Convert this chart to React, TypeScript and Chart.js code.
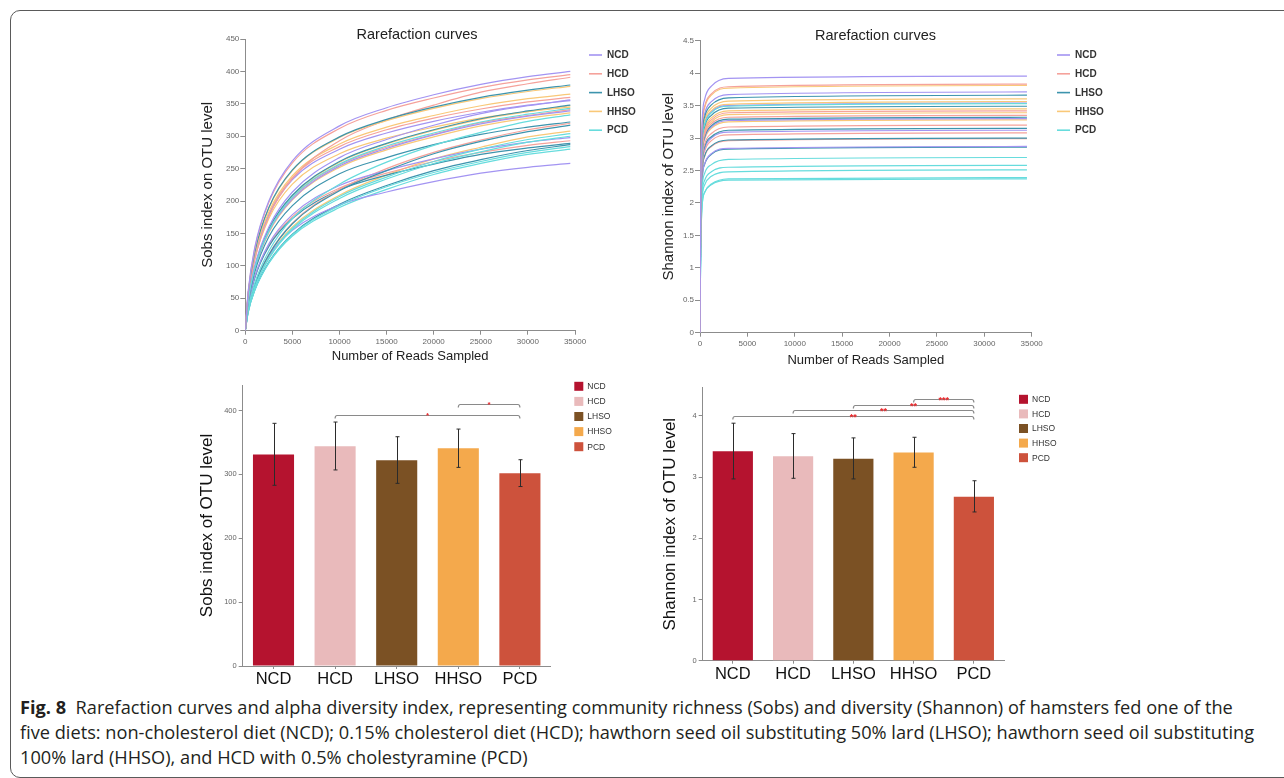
import React, { useEffect, useRef } from 'react';
import { Chart, registerables } from 'chart.js';
Chart.register(...registerables);
Chart.defaults.font.family = "'Liberation Sans', Arial, Helvetica, sans-serif";

// ---------------- data ----------------
const GROUPS = ['NCD', 'HCD', 'LHSO', 'HHSO', 'PCD'];
const LINE_COLORS = ['#a394f2', '#f5a29b', '#3d94ad', '#f9c878', '#67dcdd'];
const BAR_COLORS = ['#b5132f', '#e9babb', '#7b5124', '#f4a94c', '#cd523c'];

// Sobs rarefaction curves (reads sampled -> Sobs)
const SOBS_READS = [0, 300, 1000, 2500, 5000, 10000, 15000, 20000, 25000, 30000, 34500];
const SOBS_NCD = [
  [0, 60, 128, 200, 262, 316, 344, 364, 380, 392, 400],
  [0, 46, 100, 160, 214, 267, 295, 317, 335, 347, 356],
  [0, 53, 114, 178, 233, 280, 305, 323, 337, 348, 355],
  [0, 44, 95, 153, 203, 254, 281, 302, 319, 331, 339],
  [0, 39, 83, 134, 179, 224, 247, 265, 280, 291, 298],
  [0, 34, 72, 116, 155, 194, 214, 230, 243, 252, 258],
];
const SOBS_HCD = [
  [0, 59, 126, 198, 259, 312, 340, 359, 375, 387, 395],
  [0, 51, 109, 176, 235, 293, 325, 348, 368, 381, 391],
  [0, 54, 115, 180, 236, 284, 310, 328, 342, 353, 360],
  [0, 44, 95, 153, 205, 256, 283, 303, 321, 332, 341],
  [0, 32, 70, 118, 166, 218, 250, 275, 294, 310, 320],
  [0, 38, 82, 132, 176, 220, 243, 261, 275, 286, 293],
];
const SOBS_LHSO = [
  [0, 57, 121, 190, 248, 299, 326, 345, 360, 371, 379],
  [0, 45, 97, 157, 209, 261, 289, 310, 327, 339, 348],
  [0, 42, 90, 145, 193, 242, 267, 287, 303, 314, 322],
  [0, 32, 70, 117, 165, 216, 247, 273, 292, 307, 317],
  [0, 38, 81, 130, 173, 217, 240, 257, 272, 282, 289],
  [0, 29, 63, 106, 149, 195, 224, 247, 264, 278, 287],
];
const SOBS_HHSO = [
  [0, 57, 121, 189, 247, 298, 324, 343, 358, 369, 377],
  [0, 55, 117, 183, 239, 288, 314, 332, 347, 358, 365],
  [0, 45, 97, 156, 208, 260, 288, 309, 326, 338, 347],
  [0, 52, 110, 173, 226, 273, 297, 314, 328, 338, 345],
  [0, 44, 94, 151, 202, 252, 279, 299, 316, 328, 336],
  [0, 31, 68, 114, 160, 209, 240, 265, 283, 299, 308],
];
const SOBS_PCD = [
  [0, 45, 96, 154, 206, 257, 285, 305, 322, 334, 343],
  [0, 33, 73, 123, 173, 226, 260, 286, 306, 323, 333],
  [0, 30, 67, 112, 158, 207, 237, 261, 280, 295, 304],
  [0, 30, 66, 111, 156, 204, 234, 258, 276, 291, 300],
  [0, 28, 62, 105, 148, 193, 222, 244, 261, 275, 284],
  [0, 28, 62, 104, 146, 190, 218, 241, 258, 272, 280],
];

// Shannon rarefaction curves
const SHANNON_READS = [0, 60, 200, 500, 1200, 3000, 34500];
const SHANNON_NCD = [
  [0, 1.78, 3.16, 3.6, 3.8, 3.92, 3.955],
  [0, 1.67, 2.97, 3.38, 3.56, 3.67, 3.71],
  [0, 1.59, 2.83, 3.22, 3.4, 3.5, 3.54],
  [0, 1.49, 2.64, 3.0, 3.17, 3.27, 3.3],
  [0, 1.4, 2.5, 2.84, 3.0, 3.09, 3.12],
  [0, 1.29, 2.3, 2.61, 2.76, 2.84, 2.87],
];
const SHANNON_HCD = [
  [0, 1.72, 3.06, 3.49, 3.68, 3.79, 3.83],
  [0, 1.54, 2.74, 3.11, 3.28, 3.39, 3.42],
  [0, 1.51, 2.68, 3.05, 3.22, 3.32, 3.35],
  [0, 1.44, 2.56, 2.91, 3.07, 3.17, 3.2],
  [0, 1.39, 2.46, 2.8, 2.96, 3.05, 3.08],
  [0, 1.35, 2.39, 2.72, 2.87, 2.96, 2.99],
];
const SHANNON_LHSO = [
  [0, 1.65, 2.93, 3.33, 3.51, 3.62, 3.66],
  [0, 1.57, 2.79, 3.18, 3.35, 3.46, 3.49],
  [0, 1.49, 2.66, 3.02, 3.19, 3.29, 3.32],
  [0, 1.42, 2.52, 2.87, 3.02, 3.12, 3.15],
  [0, 1.35, 2.4, 2.73, 2.88, 2.97, 3.0],
  [0, 1.29, 2.29, 2.6, 2.75, 2.83, 2.86],
];
const SHANNON_HHSO = [
  [0, 1.71, 3.05, 3.47, 3.66, 3.77, 3.81],
  [0, 1.62, 2.88, 3.28, 3.46, 3.57, 3.605],
  [0, 1.6, 2.85, 3.24, 3.42, 3.52, 3.56],
  [0, 1.55, 2.76, 3.14, 3.31, 3.42, 3.45],
  [0, 1.53, 2.71, 3.08, 3.25, 3.36, 3.39],
  [0, 1.48, 2.62, 2.98, 3.15, 3.25, 3.28],
];
const SHANNON_PCD = [
  [0, 1.59, 2.82, 3.21, 3.39, 3.49, 3.53],
  [0, 1.22, 2.16, 2.46, 2.59, 2.67, 2.7],
  [0, 1.16, 2.06, 2.35, 2.48, 2.55, 2.58],
  [0, 1.13, 2.01, 2.28, 2.41, 2.48, 2.51],
  [0, 1.08, 1.91, 2.17, 2.29, 2.37, 2.39],
  [0, 1.07, 1.9, 2.16, 2.28, 2.35, 2.37],
];

// Bar charts (mean, error bar low/high)
const SOBS_MEAN = [331, 344, 322, 341, 302];
const SOBS_LOW = [283, 307, 286, 311, 281];
const SOBS_HIGH = [380, 382, 359, 371, 323];
const SOBS_SIG: [number, number, number, string][] = [
  [1, 4, 393, '*'],
  [3, 4, 410, '*'],
];

const SHANNON_MEAN = [3.42, 3.34, 3.3, 3.4, 2.68];
const SHANNON_LOW = [2.97, 2.98, 2.97, 3.16, 2.43];
const SHANNON_HIGH = [3.88, 3.71, 3.64, 3.65, 2.94];
const SHANNON_SIG: [number, number, number, string][] = [
  [0, 4, 4.0, '**'],
  [1, 4, 4.09, '**'],
  [2, 4, 4.18, '**'],
  [3, 4, 4.27, '***'],
];

const CAPTION_LINES = [
  'Rarefaction curves and alpha diversity index, representing community richness (Sobs) and diversity (Shannon) of hamsters fed one of the',
  'five diets: non-cholesterol diet (NCD); 0.15% cholesterol diet (HCD); hawthorn seed oil substituting 50% lard (LHSO); hawthorn seed oil substituting',
  '100% lard (HHSO), and HCD with 0.5% cholestyramine (PCD)',
];

// ---------------- plugins ----------------
function makeLegend(cfg: any) {
  return {
    id: 'customLegend',
    afterDraw(chart: any) {
      const { ctx, chartArea } = chart;
      ctx.save();
      ctx.font = cfg.font;
      ctx.textBaseline = 'middle';
      ctx.textAlign = 'left';
      GROUPS.forEach((label, i) => {
        const y = chartArea.top + cfg.y0 + i * cfg.dy;
        const x = chartArea.right + cfg.dx;
        if (cfg.kind === 'line') {
          ctx.strokeStyle = cfg.colors[i];
          ctx.lineWidth = 1.6;
          ctx.beginPath();
          ctx.moveTo(x, y);
          ctx.lineTo(x + cfg.sw, y);
          ctx.stroke();
        } else {
          ctx.fillStyle = cfg.colors[i];
          ctx.fillRect(x, y - cfg.sw / 2, cfg.sw, cfg.sw);
        }
        ctx.fillStyle = cfg.textColor;
        ctx.fillText(label, x + cfg.tdx, y + 0.5);
      });
      ctx.restore();
    },
  };
}

function makeErrorBars(low: number[], high: number[]) {
  return {
    id: 'errorBars',
    afterDatasetsDraw(chart: any) {
      const { ctx, scales } = chart;
      const xs = scales.x, ys = scales.y;
      ctx.save();
      ctx.strokeStyle = '#2b2b2b';
      ctx.lineWidth = 1;
      low.forEach((lo, i) => {
        const px = Math.round(xs.getPixelForValue(i)) + 0.5;
        const yl = ys.getPixelForValue(lo);
        const yh = ys.getPixelForValue(high[i]);
        ctx.beginPath();
        ctx.moveTo(px, yl);
        ctx.lineTo(px, yh);
        ctx.moveTo(px - 2, yl);
        ctx.lineTo(px + 2, yl);
        ctx.moveTo(px - 2, yh);
        ctx.lineTo(px + 2, yh);
        ctx.stroke();
      });
      ctx.restore();
    },
  };
}

function makeBrackets(items: [number, number, number, string][], font: string, labelDy: number) {
  return {
    id: 'sigBrackets',
    afterDatasetsDraw(chart: any) {
      const { ctx, scales } = chart;
      const xs = scales.x, ys = scales.y;
      ctx.save();
      items.forEach(([from, to, level, label]) => {
        const x1 = xs.getPixelForValue(from);
        const x2 = xs.getPixelForValue(to);
        const py = Math.round(ys.getPixelForValue(level)) + 0.5;
        ctx.strokeStyle = '#8a8a8a';
        ctx.lineWidth = 1.2;
        ctx.beginPath();
        ctx.moveTo(x1, py + 3);
        ctx.quadraticCurveTo(x1, py, x1 + 2, py);
        ctx.lineTo(x2 - 2, py);
        ctx.quadraticCurveTo(x2, py, x2, py + 3);
        ctx.stroke();
        ctx.fillStyle = '#e8262a';
        ctx.font = font;
        ctx.textAlign = 'center';
        ctx.textBaseline = 'alphabetic';
        ctx.fillText(label, (x1 + x2) / 2, py + labelDy);
      });
      ctx.restore();
    },
  };
}

function curveDatasets(reads: number[], sets: number[][][]) {
  const ds: any[] = [];
  const maxLen = Math.max(...sets.map((s) => s.length));
  for (let k = 0; k < maxLen; k++) {
    sets.forEach((curves, g) => {
      const vals = curves[k];
      if (!vals) return;
      ds.push({
        label: `${GROUPS[g]} ${k + 1}`,
        data: vals.map((v, i) => ({ x: reads[i], y: v })),
        borderColor: LINE_COLORS[g],
        borderWidth: 1.2,
        pointRadius: 0,
        fill: false,
        cubicInterpolationMode: 'monotone',
      });
    });
  }
  return ds;
}

const AXIS_GREY = '#8c8c8c';
const TICK_GREY = '#666';

function rarefactionConfig(o: any) {
  return {
    type: 'line',
    data: { datasets: curveDatasets(o.reads, o.sets) },
    plugins: [makeLegend(o.legend)],
    options: {
      animation: false,
      responsive: false,
      maintainAspectRatio: false,
      events: [],
      layout: { padding: { left: 0, right: 0, top: o.padTop, bottom: o.padBottom } },
      plugins: {
        legend: { display: false },
        tooltip: { enabled: false },
        title: {
          display: true,
          text: 'Rarefaction curves',
          font: { size: 14.5, weight: 'normal' },
          color: '#222',
          padding: { top: 0, bottom: o.titleBottom },
        },
      },
      scales: {
        x: {
          type: 'linear',
          min: 0,
          max: 35000,
          ticks: { stepSize: 5000, font: { size: 8 }, color: TICK_GREY, padding: 2, maxRotation: 0, autoSkip: false, callback: (v: any) => String(v) },
          grid: { drawOnChartArea: false, tickLength: 4, color: AXIS_GREY },
          border: { color: AXIS_GREY },
          title: { display: true, text: 'Number of Reads Sampled', font: { size: 13 }, color: '#222', padding: 0 },
          afterFit: (s: any) => { s.height = o.xHeight; },
        },
        y: {
          min: 0,
          max: o.yMax,
          ticks: { stepSize: o.yStep, font: { size: 8 }, color: TICK_GREY, padding: 1, callback: (v: any) => String(v) },
          grid: { drawOnChartArea: false, tickLength: 5, color: AXIS_GREY },
          border: { color: AXIS_GREY },
          title: { display: true, text: o.yTitle, font: { size: 15 }, color: '#222', padding: { top: o.yTitlePad, bottom: 0 } },
          afterFit: (s: any) => { s.width = o.yWidth; },
        },
        yR: {
          position: 'right',
          grid: { display: false },
          border: { display: false },
          ticks: { display: false },
          afterFit: (s: any) => { s.width = o.rightWidth; },
        },
      },
    },
  };
}

function barConfig(o: any) {
  return {
    type: 'bar',
    data: {
      labels: GROUPS,
      datasets: [
        {
          label: o.yTitle,
          data: o.mean,
          backgroundColor: BAR_COLORS,
          borderWidth: 0,
          categoryPercentage: 1,
          barPercentage: 0.667,
        },
      ],
    },
    plugins: [makeErrorBars(o.low, o.high), makeBrackets(o.sig, o.sigFont, o.sigDy), makeLegend(o.legend)],
    options: {
      animation: false,
      responsive: false,
      maintainAspectRatio: false,
      events: [],
      layout: { padding: { left: 0, right: 0, top: o.padTop, bottom: o.padBottom } },
      plugins: { legend: { display: false }, tooltip: { enabled: false } },
      scales: {
        x: {
          ticks: { font: { size: 16.5 }, color: '#111', padding: 1 },
          grid: { drawOnChartArea: false, offset: false, tickLength: 3, color: AXIS_GREY },
          border: { color: AXIS_GREY },
          afterFit: (s: any) => { s.height = 24; },
        },
        y: {
          min: 0,
          max: o.yMax,
          ticks: { stepSize: o.yStep, includeBounds: false, font: { size: 7.5 }, color: TICK_GREY, padding: 2, callback: (v: any) => String(v) },
          grid: { drawOnChartArea: false, tickLength: 4, color: AXIS_GREY },
          border: { color: AXIS_GREY },
          title: { display: true, text: o.yTitle, font: { size: 17 }, color: '#111', padding: { top: o.yTitlePad, bottom: 0 } },
          afterFit: (s: any) => { s.width = o.yWidth; },
        },
        yR: {
          position: 'right',
          grid: { display: false },
          border: { display: false },
          ticks: { display: false },
          afterFit: (s: any) => { s.width = o.rightWidth; },
        },
      },
    },
  };
}

export default function App() {
  const refA = useRef<HTMLCanvasElement>(null);
  const refB = useRef<HTMLCanvasElement>(null);
  const refC = useRef<HTMLCanvasElement>(null);
  const refD = useRef<HTMLCanvasElement>(null);

  useEffect(() => {
    const charts: Chart[] = [];
    charts.push(
      new Chart(refA.current as HTMLCanvasElement, rarefactionConfig({
        reads: SOBS_READS,
        sets: [SOBS_NCD, SOBS_HCD, SOBS_LHSO, SOBS_HHSO, SOBS_PCD],
        yMax: 450, yStep: 50, yTitle: 'Sobs index on OTU level',
        padTop: 6.3, titleBottom: -4.7, padBottom: 6.2, xHeight: 33.1,
        yWidth: 55.3, yTitlePad: 9, rightWidth: 69,
        legend: { kind: 'line', colors: LINE_COLORS, font: 'bold 10px "Liberation Sans", Arial, sans-serif', textColor: '#333', dx: 14, sw: 13, tdx: 18, y0: 16, dy: 18.8 },
      }) as any)
    );
    charts.push(
      new Chart(refB.current as HTMLCanvasElement, rarefactionConfig({
        reads: SHANNON_READS,
        sets: [SHANNON_NCD, SHANNON_HCD, SHANNON_LHSO, SHANNON_HHSO, SHANNON_PCD],
        yMax: 4.5, yStep: 0.5, yTitle: 'Shannon index of OTU level',
        padTop: 7.3, titleBottom: -4.0, padBottom: 1.5, xHeight: 35.8,
        yWidth: 55, yTitlePad: 15, rightWidth: 74.3,
        legend: { kind: 'line', colors: LINE_COLORS, font: 'bold 10px "Liberation Sans", Arial, sans-serif', textColor: '#333', dx: 25.3, sw: 13, tdx: 18, y0: 14.3, dy: 18.8 },
      }) as any)
    );
    charts.push(
      new Chart(refC.current as HTMLCanvasElement, barConfig({
        mean: SOBS_MEAN, low: SOBS_LOW, high: SOBS_HIGH, sig: SOBS_SIG,
        sigFont: 'bold 8px "Liberation Sans", Arial, sans-serif', sigDy: 2.6,
        yMax: 440, yStep: 100, yTitle: 'Sobs index of OTU level',
        padTop: 10, padBottom: 5, yWidth: 52.7, yTitlePad: 6.8, rightWidth: 94.3,
        legend: { kind: 'box', colors: BAR_COLORS, font: '8.5px "Liberation Sans", Arial, sans-serif', textColor: '#333', dx: 23.6, sw: 9, tdx: 13, y0: 1.3, dy: 15.1 },
      }) as any)
    );
    charts.push(
      new Chart(refD.current as HTMLCanvasElement, barConfig({
        mean: SHANNON_MEAN, low: SHANNON_LOW, high: SHANNON_HIGH, sig: SHANNON_SIG,
        sigFont: 'bold 9px "Liberation Sans", Arial, sans-serif', sigDy: 3.7,
        yMax: 4.46, yStep: 1, yTitle: 'Shannon index of OTU level',
        padTop: 12.7, padBottom: 10.3, yWidth: 52.7, yTitlePad: 9.8, rightWidth: 101,
        legend: { kind: 'box', colors: BAR_COLORS, font: '8.5px "Liberation Sans", Arial, sans-serif', textColor: '#333', dx: 15, sw: 9, tdx: 13, y0: 11.6, dy: 14.6 },
      }) as any)
    );
    return () => charts.forEach((c) => c.destroy());
  }, []);

  const cv = (left: number, top: number, w: number, h: number): React.CSSProperties => ({
    position: 'absolute', left, top, width: w, height: h,
  });

  return (
    <div style={{ position: 'absolute', left: 0, top: 0, width: 1284, height: 778, overflow: 'hidden', background: '#fff' }}>
      <div
        style={{
          position: 'absolute', left: 10, top: 10, width: 1320, height: 768, boxSizing: 'border-box',
          border: '1.5px solid #5a5a5a', borderRadius: 10,
        }}
      />
      <canvas ref={refA} width={454} height={350} style={cv(190, 20, 454, 350)} />
      <canvas ref={refB} width={461} height={350} style={cv(645, 20, 461, 350)} />
      <canvas ref={refC} width={455} height={320} style={cv(190, 375, 455, 320)} />
      <canvas ref={refD} width={455} height={320} style={cv(650, 375, 455, 320)} />
      <div
        style={{
          position: 'absolute', left: 20, top: 695, fontFamily: "'Open Sans', 'Noto Sans', sans-serif",
          fontSize: 18.2, lineHeight: '25px', color: '#231f20', whiteSpace: 'nowrap',
        }}
      >
        <div>
          <span style={{ fontWeight: 700 }}>Fig. 8</span>&nbsp; {CAPTION_LINES[0]}
        </div>
        <div>{CAPTION_LINES[1]}</div>
        <div>{CAPTION_LINES[2]}</div>
      </div>
    </div>
  );
}
